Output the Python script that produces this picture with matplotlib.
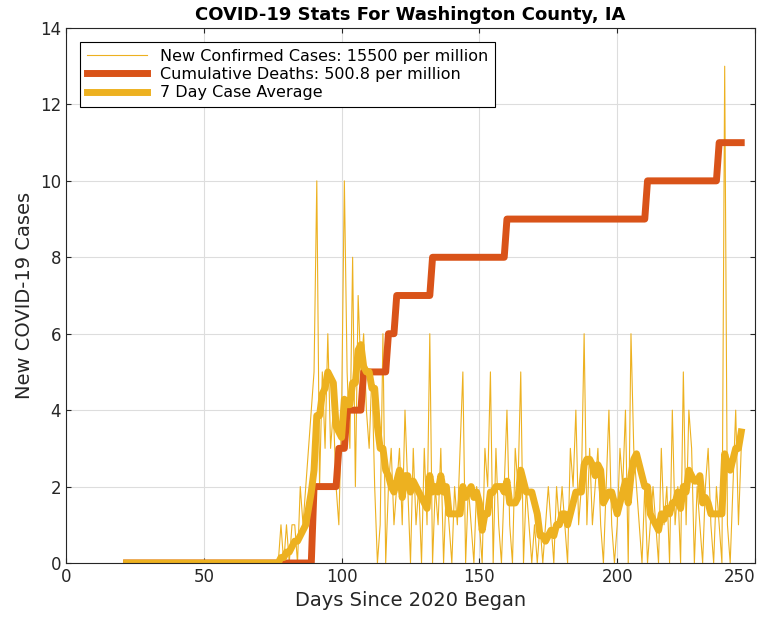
import matplotlib
matplotlib.use("Agg")
import matplotlib.pyplot as plt
import numpy as np
import pandas as pd

start_day = 22
daily_cases = [0]*(78-22) + [
1,0,1,0,1,1,0,2,1,2,3,4,
5,10,2,5,3,6,3,4,2,1,
4,10,5,3,8,2,7,5,6,4,
3,5,2,0,1,6,0,2,3,1,
2,3,1,4,2,0,3,1,2,0,
3,1,6,0,2,1,3,0,2,1,
0,2,1,3,5,0,2,1,0,2,
1,0,3,2,5,0,3,1,0,2,
4,1,0,3,2,5,0,2,1,0,
1,0,1,0,1,2,1,0,2,1,
2,1,0,3,2,4,1,2,6,1,
3,1,2,3,1,0,2,4,1,0,
1,3,2,4,0,6,3,2,1,0,
2,0,1,2,1,0,3,1,2,0,
4,1,2,0,5,1,4,3,0,2,
1,0,2,3,1,0,2,1,0,13,
1,0,2,4,1,3]
# cumulative deaths: (first day, value)
death_steps = [(22,0),(90,2),(99,3),(102,4),(108,5),(117,6),(120,7),(133,8),(160,9),(211,10),(237,11)]

days = np.arange(start_day, start_day+len(daily_cases))
deaths = np.zeros(len(days))
for d, v in death_steps:
    deaths[days >= d] = v
avg = pd.Series(daily_cases).rolling(7, min_periods=1).mean().values

yel = '#EDB120'; ora = '#D95319'
fig = plt.figure(figsize=(7.61, 6.30), dpi=100)
ax = fig.add_axes([66/761, 1-563/630, 689/761, 535/630])
ax.plot(days, daily_cases, color=yel, lw=0.8, label='New Confirmed Cases: 15500 per million')
ax.plot(days, deaths, color=ora, lw=5, label='Cumulative Deaths: 500.8 per million')
ax.plot(days, avg, color=yel, lw=5, label='7 Day Case Average')
ax.set_xlim(0, 250); ax.set_ylim(0, 14)
ax.set_xticks(range(0, 251, 50)); ax.set_yticks(range(0, 15, 2))
ax.grid(True, color='#dddddd', lw=0.8)
ax.set_axisbelow(True)
for s in ax.spines.values():
    s.set_color('#262626'); s.set_linewidth(0.8)
ax.tick_params(direction='in', labelsize=12, colors='#262626', top=True, right=True)
lbls = ax.get_xticklabels()
lbls[-1].set_horizontalalignment('right')
ax.set_xlabel('Days Since 2020 Began', fontsize=14, color='#262626')
ax.set_ylabel('New COVID-19 Cases', fontsize=14, color='#262626')
ax.set_title('COVID-19 Stats For Washington County, IA', fontsize=13, fontweight='bold')
leg = ax.legend(loc='upper left', fontsize=11.5, fancybox=False, framealpha=1,
                edgecolor='black', borderaxespad=0.9, handlelength=3.8, labelspacing=0.2)
leg.get_frame().set_linewidth(0.8)
fig.savefig('out.png', dpi=100)
